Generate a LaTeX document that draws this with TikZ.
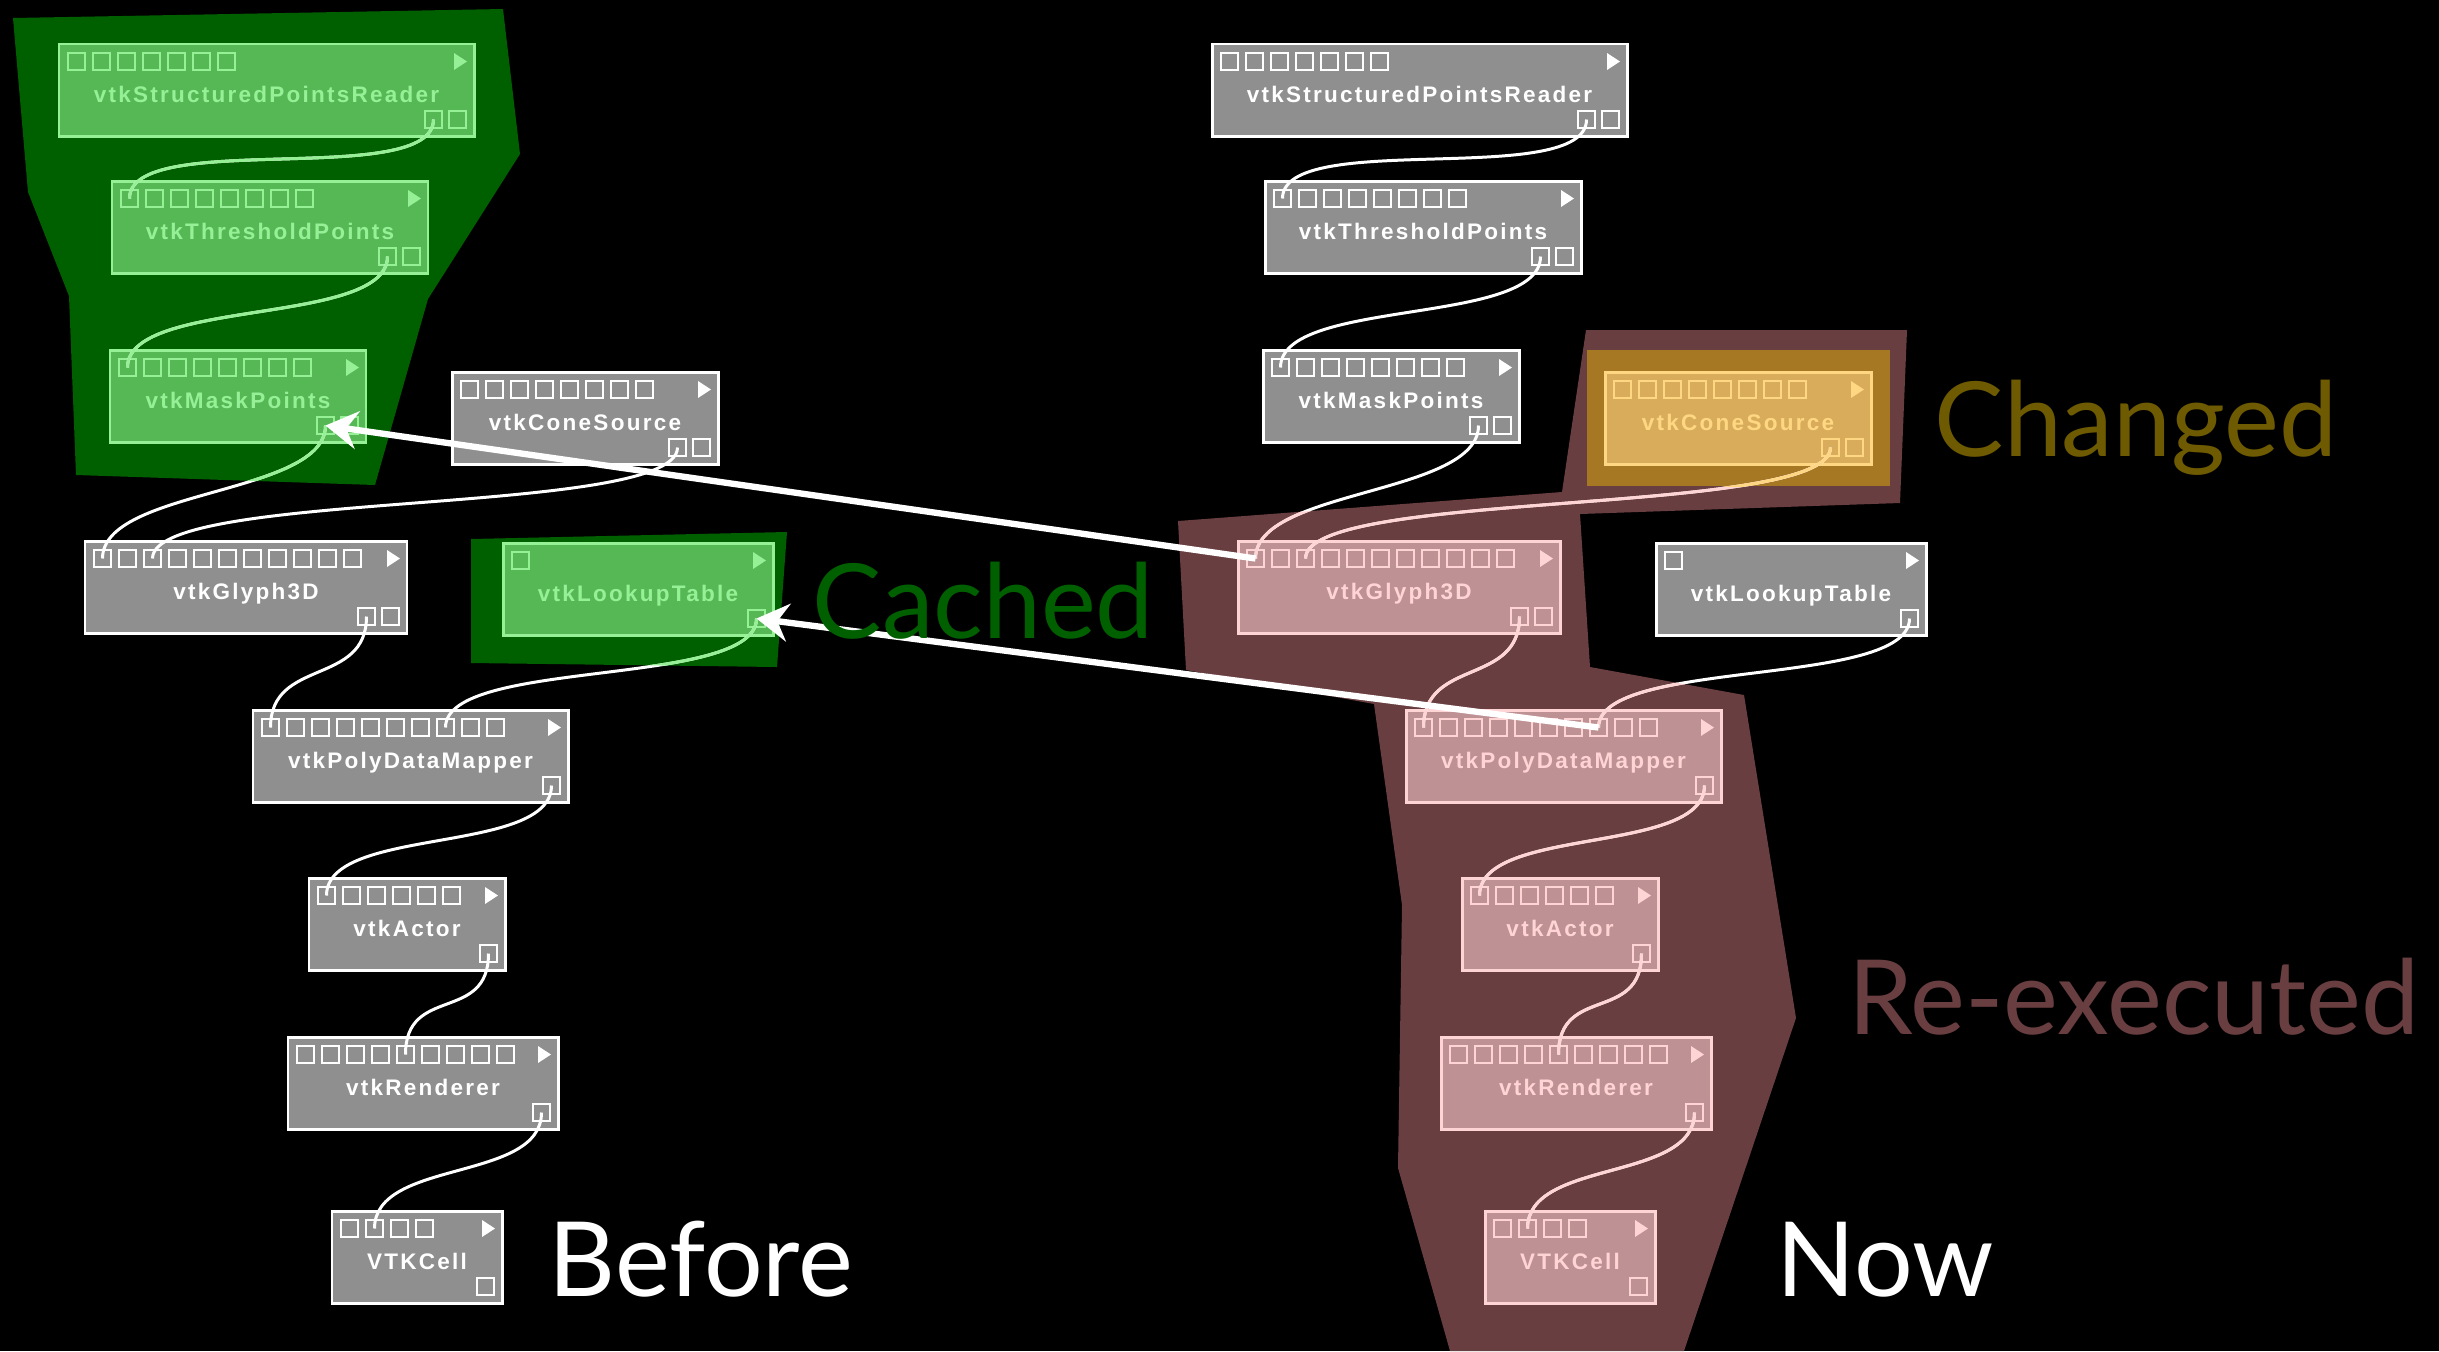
\documentclass[tikz,border=0pt]{standalone}
\usepackage{fontspec}
\setmainfont{Lato}
\newfontfamily\modfont[LetterSpace=10]{Liberation Sans}
\usetikzlibrary{arrows.meta}

\definecolor{grayF}{HTML}{8F8F8F}
\definecolor{grayL}{HTML}{FFFFFF}
\definecolor{cachedF}{HTML}{55B855}
\definecolor{cachedL}{HTML}{96F096}
\definecolor{cachedZ}{HTML}{006000}
\definecolor{redoF}{HTML}{BE9194}
\definecolor{redoL}{HTML}{FFD4D4}
\definecolor{redoZ}{HTML}{693E41}
\definecolor{changedF}{HTML}{D8AC5A}
\definecolor{changedL}{HTML}{FFD782}
\definecolor{changedZ}{HTML}{A67823}
\definecolor{changedT}{HTML}{6E5A00}

\tikzset{
  module/.style   = {draw, line width=0.85pt, inner sep=0pt, outer sep=0pt, minimum height=0.92cm, anchor=north west},
  port/.style     = {draw, line width=0.8pt, inner sep=0pt, minimum size=0.17cm},
  modlabel/.style = {font=\modfont\bfseries\fontsize{6.4}{7}\selectfont, anchor=base, inner sep=0pt},
  wire/.style     = {line width=0.85pt},
  bigarrow/.style = {draw=white, line width=1.8pt, -{Stealth[length=3.2mm,width=3.8mm,inset=1.1mm]}},
  tag/.style      = {font=\fontsize{29.5}{34}\selectfont, anchor=base west, inner sep=0pt},
}

% module: name, left, top, width, label, inputs, outputs, state
\newcommand\vtkmod[8]{%
  \begin{scope}[shift={(#2,#3)}]
    \node[module, draw=#8L, fill=#8F, minimum width=#4*0.01cm] (#1) at (0,0) {};
    \node[modlabel, text=#8L] (#1-lbl) at (#4/2,58) {#5};
    \foreach \k in {1,...,#6}
      \node[port, draw=#8L] (#1-in\k) at ({17.5+25*(\k-1)},17.5) {};
    \foreach \k in {1,...,#7}
      \node[port, draw=#8L] (#1-out\k) at ({#4-16.5-24*(#7-\k)},75.5) {};
    \fill[#8L] (#4-20,9) -- (#4-7,17.5) -- (#4-20,26) -- cycle;
  \end{scope}}

\newcommand\link[2]{\draw (#1.center) .. controls +(0,70) and +(0,-70) .. (#2.center);}

\newcommand\linksL{%
  \link{LR-out1}{LT-in1}
  \link{LT-out1}{LM-in1}
  \link{LM-out1}{LG-in1}
  \link{LC-out1}{LG-in3}
  \link{LG-out1}{LP-in1}
  \link{LL-out1}{LP-in8}
  \link{LP-out1}{LA-in1}
  \link{LA-out1}{LRe-in5}
  \link{LRe-out1}{LV-in2}}
\newcommand\linksR{%
  \link{RR-out1}{RT-in1}
  \link{RT-out1}{RM-in1}
  \link{RM-out1}{RG-in1}
  \link{RC-out1}{RG-in3}
  \link{RG-out1}{RP-in1}
  \link{RL-out1}{RP-in8}
  \link{RP-out1}{RA-in1}
  \link{RA-out1}{RRe-in5}
  \link{RRe-out1}{RV-in2}}

\newcommand\zoneA{(13,18) -- (503,9) -- (520,154) -- (428,299) -- (375,485) -- (76,475) -- (69,296) -- (28,192) -- cycle}
\newcommand\zoneB{(471,539) -- (787,532) -- (777,667) -- (471,663) -- cycle}
\newcommand\zoneC{(1178,521) -- (1562,492) -- (1586,330) -- (1907,330) -- (1900,503) -- (1580,514) -- (1590,667) -- (1744,695) -- (1796,1018) -- (1684,1351) -- (1450,1351) -- (1398,1168) -- (1402,905) -- (1374,704) -- (1186,670) -- cycle}
\newcommand\zoneD{(1587,350) rectangle (1890,486)}

\begin{document}
\begin{tikzpicture}[x=0.01cm, y=-0.01cm]
  \fill[black] (0,0) rectangle (2439,1351);
  % highlighted zones
  \fill[cachedZ] \zoneA;
  \fill[cachedZ] \zoneB;
  \fill[redoZ] \zoneC;
  \fill[changedZ] \zoneD;

  % before
  \vtkmod{LR}{59}{44}{415}{vtkStructuredPointsReader}{7}{2}{cached}
  \vtkmod{LT}{112}{181}{316}{vtkThresholdPoints}{8}{2}{cached}
  \vtkmod{LM}{110}{350}{256}{vtkMaskPoints}{8}{2}{cached}
  \vtkmod{LC}{452}{372}{266}{vtkConeSource}{8}{2}{gray}
  \vtkmod{LG}{85}{541}{322}{vtkGlyph3D}{11}{2}{gray}
  \vtkmod{LL}{503}{543}{270}{vtkLookupTable}{1}{1}{cached}
  \vtkmod{LP}{253}{710}{315}{vtkPolyDataMapper}{10}{1}{gray}
  \vtkmod{LA}{309}{878}{196}{vtkActor}{6}{1}{gray}
  \vtkmod{LRe}{288}{1037}{270}{vtkRenderer}{9}{1}{gray}
  \vtkmod{LV}{332}{1211}{170}{VTKCell}{4}{1}{gray}

  % now
  \vtkmod{RR}{1212}{44}{415}{vtkStructuredPointsReader}{7}{2}{gray}
  \vtkmod{RT}{1265}{181}{316}{vtkThresholdPoints}{8}{2}{gray}
  \vtkmod{RM}{1263}{350}{256}{vtkMaskPoints}{8}{2}{gray}
  \vtkmod{RC}{1605}{372}{266}{vtkConeSource}{8}{2}{changed}
  \vtkmod{RG}{1238}{541}{322}{vtkGlyph3D}{11}{2}{redo}
  \vtkmod{RL}{1656}{543}{270}{vtkLookupTable}{1}{1}{gray}
  \vtkmod{RP}{1406}{710}{315}{vtkPolyDataMapper}{10}{1}{redo}
  \vtkmod{RA}{1462}{878}{196}{vtkActor}{6}{1}{redo}
  \vtkmod{RRe}{1441}{1037}{270}{vtkRenderer}{9}{1}{redo}
  \vtkmod{RV}{1485}{1211}{170}{VTKCell}{4}{1}{redo}

  % connections, recoloured inside the zones
  \begin{scope}[wire, white] \linksL \linksR \end{scope}
  \begin{scope} \clip \zoneA; \begin{scope}[wire, cachedL] \linksL \end{scope} \end{scope}
  \begin{scope} \clip \zoneB; \begin{scope}[wire, cachedL] \linksL \end{scope} \end{scope}
  \begin{scope} \clip \zoneC; \begin{scope}[wire, redoL] \linksR \end{scope} \end{scope}
  \begin{scope} \clip \zoneD; \begin{scope}[wire, changedL] \linksR \end{scope} \end{scope}

  \draw[bigarrow] (RG-in1.center) -- (LM-out1.center);
  \draw[bigarrow] (RP-in8.center) -- (LL-out1.center);

  \node[tag, text=cachedZ] (cached) at (812,638) {Cached};
  \node[tag, text=changedT] (changed) at (1934,456) {Changed};
  \node[tag, text=redoZ] (reexec) at (1848,1034) {Re-executed};
  \node[tag, text=white] (before) at (548,1296) {Before};
  \node[tag, text=white] (now) at (1776,1296) {Now};
\end{tikzpicture}
\end{document}
